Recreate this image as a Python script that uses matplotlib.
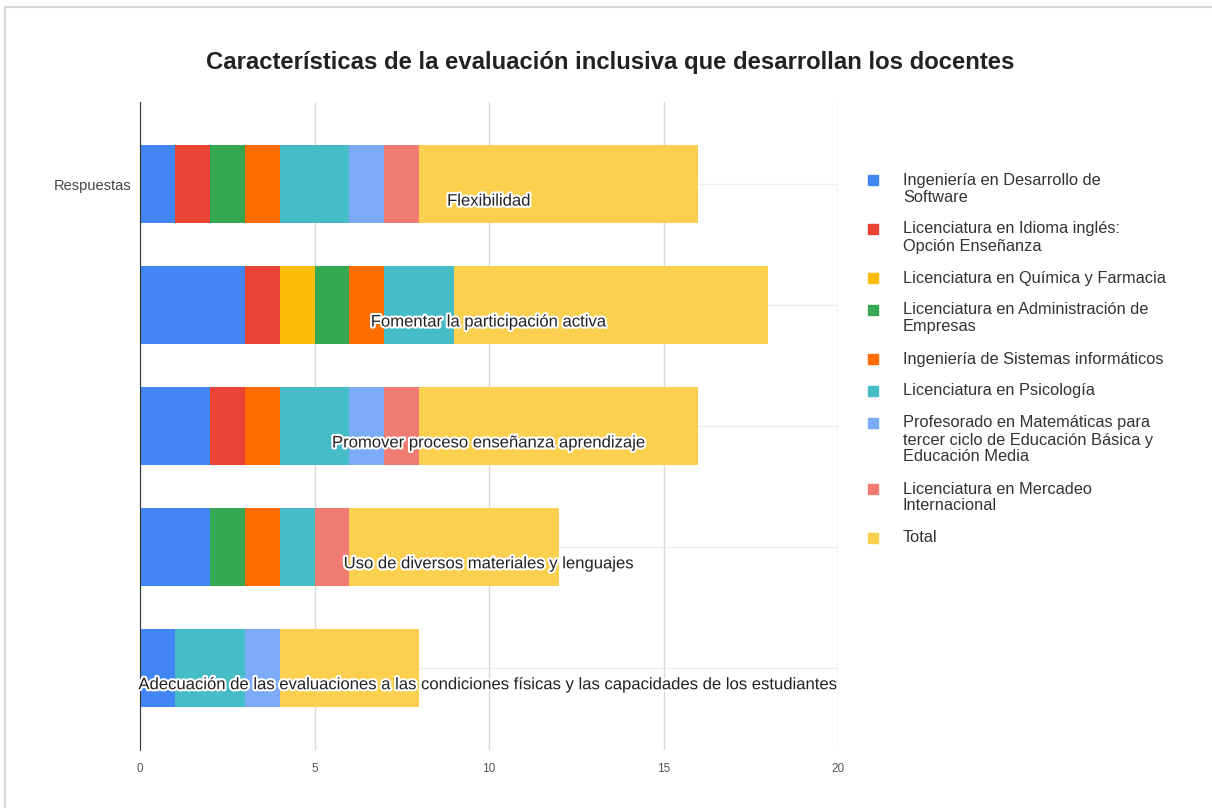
import numpy as np
import matplotlib
matplotlib.use("Agg")
import matplotlib.pyplot as plt
import matplotlib.patheffects as pe
from matplotlib.lines import Line2D
from matplotlib.patches import Rectangle

plt.rcParams['font.family'] = ['Liberation Sans', 'DejaVu Sans']

# categories (one bar each, top to bottom)
categorias = ["Flexibilidad",
              "Fomentar la participación activa",
              "Promover proceso enseñanza aprendizaje",
              "Uso de diversos materiales y lenguajes",
              "Adecuación de las evaluaciones a las condiciones físicas y las capacidades de los estudiantes"]

series = ["Ingeniería en Desarrollo de\nSoftware",
          "Licenciatura en Idioma inglés:\nOpción Enseñanza",
          "Licenciatura en Química y Farmacia",
          "Licenciatura en Administración de\nEmpresas",
          "Ingeniería de Sistemas informáticos",
          "Licenciatura en Psicología",
          "Profesorado en Matemáticas para\ntercer ciclo de Educación Básica y\nEducación Media",
          "Licenciatura en Mercadeo\nInternacional",
          "Total"]

ing_software = [1, 3, 2, 2, 1]
lic_ingles = [1, 1, 1, 0, 0]
lic_quimica = [0, 1, 0, 0, 0]
lic_admin = [1, 1, 0, 1, 0]
ing_sistemas = [1, 1, 1, 1, 0]
lic_psicologia = [2, 2, 2, 1, 2]
prof_matematicas = [1, 0, 1, 0, 1]
lic_mercadeo = [1, 0, 1, 1, 0]
total = [8, 9, 8, 6, 4]

xticks = [0, 5, 10, 15, 20]

colores = ['#4285f4', '#ea4335', '#fbbc04', '#34a853', '#ff6d01',
           '#46bdc6', '#7baaf7', '#f07b72', '#fcd04f']

valores = [ing_software, lic_ingles, lic_quimica, lic_admin, ing_sistemas,
           lic_psicologia, prof_matematicas, lic_mercadeo, total]

W, H = 1212, 808
fig = plt.figure(figsize=(W / 100, H / 100), dpi=100)
ax = fig.add_axes([140 / W, 1 - 750 / H, 698 / W, 648 / H])

y = np.arange(len(categorias))
left = np.zeros(len(categorias))
for vals, col, lab in zip(valores, colores, series):
    ax.barh(y, vals, left=left, height=0.645, color=col, label=lab, zorder=3)
    left += np.array(vals)

ax.set_xlim(0, 20)
ax.set_ylim(4.68, -0.68)
ax.set_xticks(xticks)
ax.set_xticklabels([str(t) for t in xticks], fontsize=8.5, color='#555555')
ax.set_yticks([0])
ax.set_yticklabels(['Respuestas'], fontsize=10.5, color='#444444')
ax.tick_params(axis='both', length=0)
ax.tick_params(axis='x', pad=9)
ax.tick_params(axis='y', pad=6)
ax.grid(axis='x', color='#d9d9d9', linewidth=1, zorder=0)
for yy in y:
    ax.axhline(yy, color='#efefef', linewidth=1, zorder=0)
for s in ['top', 'right', 'bottom']:
    ax.spines[s].set_visible(False)
ax.spines['left'].set_color('#333333')
ax.spines['left'].set_zorder(4)

# category labels drawn in the middle of the plot, under the bar centre
for yy, cat in zip(y, categorias):
    ax.text(0.5, yy + 0.14, cat, transform=ax.get_yaxis_transform(),
            ha='center', va='center', fontsize=12, color='#222222', zorder=5,
            path_effects=[pe.withStroke(linewidth=3, foreground='white')])

fig.text(610 / W, 1 - 63 / H,
         "Características de la evaluación inclusiva que desarrollan los docentes",
         ha='center', va='center', fontsize=17.2, fontweight='bold', color='#222222')

# legend on the right, drawn by hand
ly = 180
for lab, col in zip(series, colores):
    lines = lab.split('\n')
    fig.patches.append(Rectangle((868 / W, 1 - (ly + 5) / H), 10 / W, 10 / H,
                                 transform=fig.transFigure, color=col))
    for i, line in enumerate(lines):
        fig.text(903 / W, 1 - (ly + i * 17) / H, line, ha='left', va='center',
                 fontsize=11.8, color='#333333')
    ly += 17 * len(lines) + 15

# light frame on top and left edges
fig.add_artist(Line2D([5 / W, 1], [1 - 7 / H, 1 - 7 / H], color='#d9d9d9', linewidth=1.5))
fig.add_artist(Line2D([5 / W, 5 / W], [0, 1 - 7 / H], color='#d9d9d9', linewidth=1.5))

fig.savefig('out.png', dpi=100, facecolor='white')
